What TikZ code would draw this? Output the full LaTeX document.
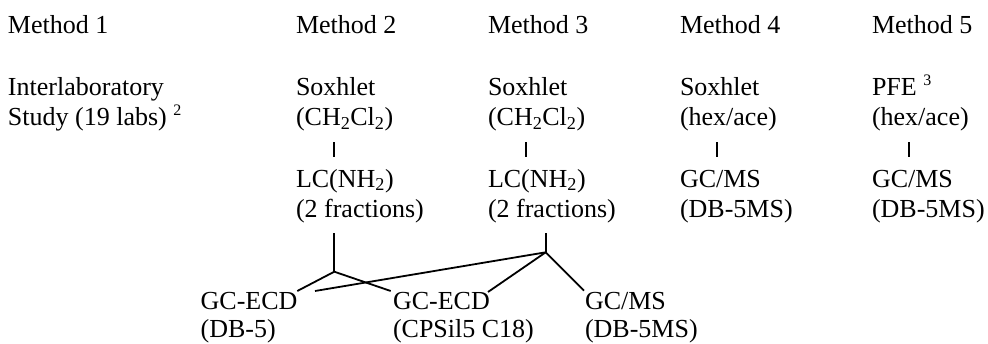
\documentclass[tikz,border=0pt]{standalone}
\usepackage{fontspec}
\setmainfont{Liberation Serif}
\newcommand{\supA}[2]{\raisebox{#1pt}{\fontsize{16}{16}\selectfont #2}}
\begin{document}
\begin{tikzpicture}[x=1pt,y=-1pt,
  lbl/.style={anchor=base west, inner sep=0pt, outer sep=0pt, font=\fontsize{26}{30}\selectfont},
  link/.style={line width=1.8pt, line cap=butt},
  bar/.style={line width=1.8pt}]
\useasboundingbox[fill=white] (0,0) rectangle (988,343);

% headings
\node[lbl] (m1) at (8,33) {Method 1};
\node[lbl] (m2) at (296,33) {Method 2};
\node[lbl] (m3) at (488,33) {Method 3};
\node[lbl] (m4) at (680,33) {Method 4};
\node[lbl] (m5) at (872,33) {Method 5};

% column 1
\node[lbl] (c1a) at (8,95) {Interlaboratory};
\node[lbl] (c1b) at (8,125.5) {Study (19 labs) \supA{10}{2}};

% column 2
\node[lbl] (c2a) at (296,95) {Soxhlet};
\node[lbl] (c2b) at (296,125.5) {(CH\textsubscript{2}Cl\textsubscript{2})};
\node[lbl] (c2c) at (296,187) {LC(NH\textsubscript{2})};
\node[lbl] (c2d) at (296,217) {(2 fractions)};

% column 3
\node[lbl] (c3a) at (488,95) {Soxhlet};
\node[lbl] (c3b) at (488,125.5) {(CH\textsubscript{2}Cl\textsubscript{2})};
\node[lbl] (c3c) at (488,187) {LC(NH\textsubscript{2})};
\node[lbl] (c3d) at (488,217) {(2 fractions)};

% column 4
\node[lbl] (c4a) at (680,95) {Soxhlet};
\node[lbl] (c4b) at (680,125.5) {(hex/ace)};
\node[lbl] (c4c) at (680,187) {GC/MS};
\node[lbl] (c4d) at (680,217) {(DB-5MS)};

% column 5
\node[lbl] (c5a) at (872,95) {PFE \supA{10}{3}};
\node[lbl] (c5b) at (872,125.5) {(hex/ace)};
\node[lbl] (c5c) at (872,187) {GC/MS};
\node[lbl] (c5d) at (872,217) {(DB-5MS)};

% bottom row
\node[lbl] (g1a) at (200.7,309) {GC-ECD};
\node[lbl] (g1b) at (200.7,337) {(DB-5)};
\node[lbl] (g2a) at (393,309) {GC-ECD};
\node[lbl] (g2b) at (393,337) {(CPSil5 C18)};
\node[lbl] (g3a) at (585,309) {GC/MS};
\node[lbl] (g3b) at (585,337) {(DB-5MS)};

% short bars between rows
\coordinate (b2t) at (334.3,142); \coordinate (b2b) at (334.3,157);
\coordinate (b3t) at (526.3,142); \coordinate (b3b) at (526.3,157);
\coordinate (b4t) at (717.3,142); \coordinate (b4b) at (717.3,157);
\coordinate (b5t) at (909.3,142); \coordinate (b5b) at (909.3,157);
\draw[bar] (b2t) -- (b2b);
\draw[bar] (b3t) -- (b3b);
\draw[bar] (b4t) -- (b4b);
\draw[bar] (b5t) -- (b5b);

% tree connectors
\coordinate (t1) at (334.3,233);
\coordinate (j1) at (334.3,271.7);
\coordinate (e1l) at (297.3,291);
\coordinate (e1r) at (390.7,291);
\coordinate (t2) at (545.7,233);
\coordinate (j2) at (545.7,252.3);
\coordinate (e2a) at (315,291);
\coordinate (e2b) at (488,292);
\coordinate (e2c) at (584,290.7);

\draw[link] (t1) -- (j1);
\draw[link] (e1l) -- (j1) -- (e1r);
\draw[link] (t2) -- (j2);
\draw[link] (j2) -- (e2a);
\draw[link] (j2) -- (e2b);
\draw[link] (j2) -- (e2c);
\end{tikzpicture}
\end{document}
